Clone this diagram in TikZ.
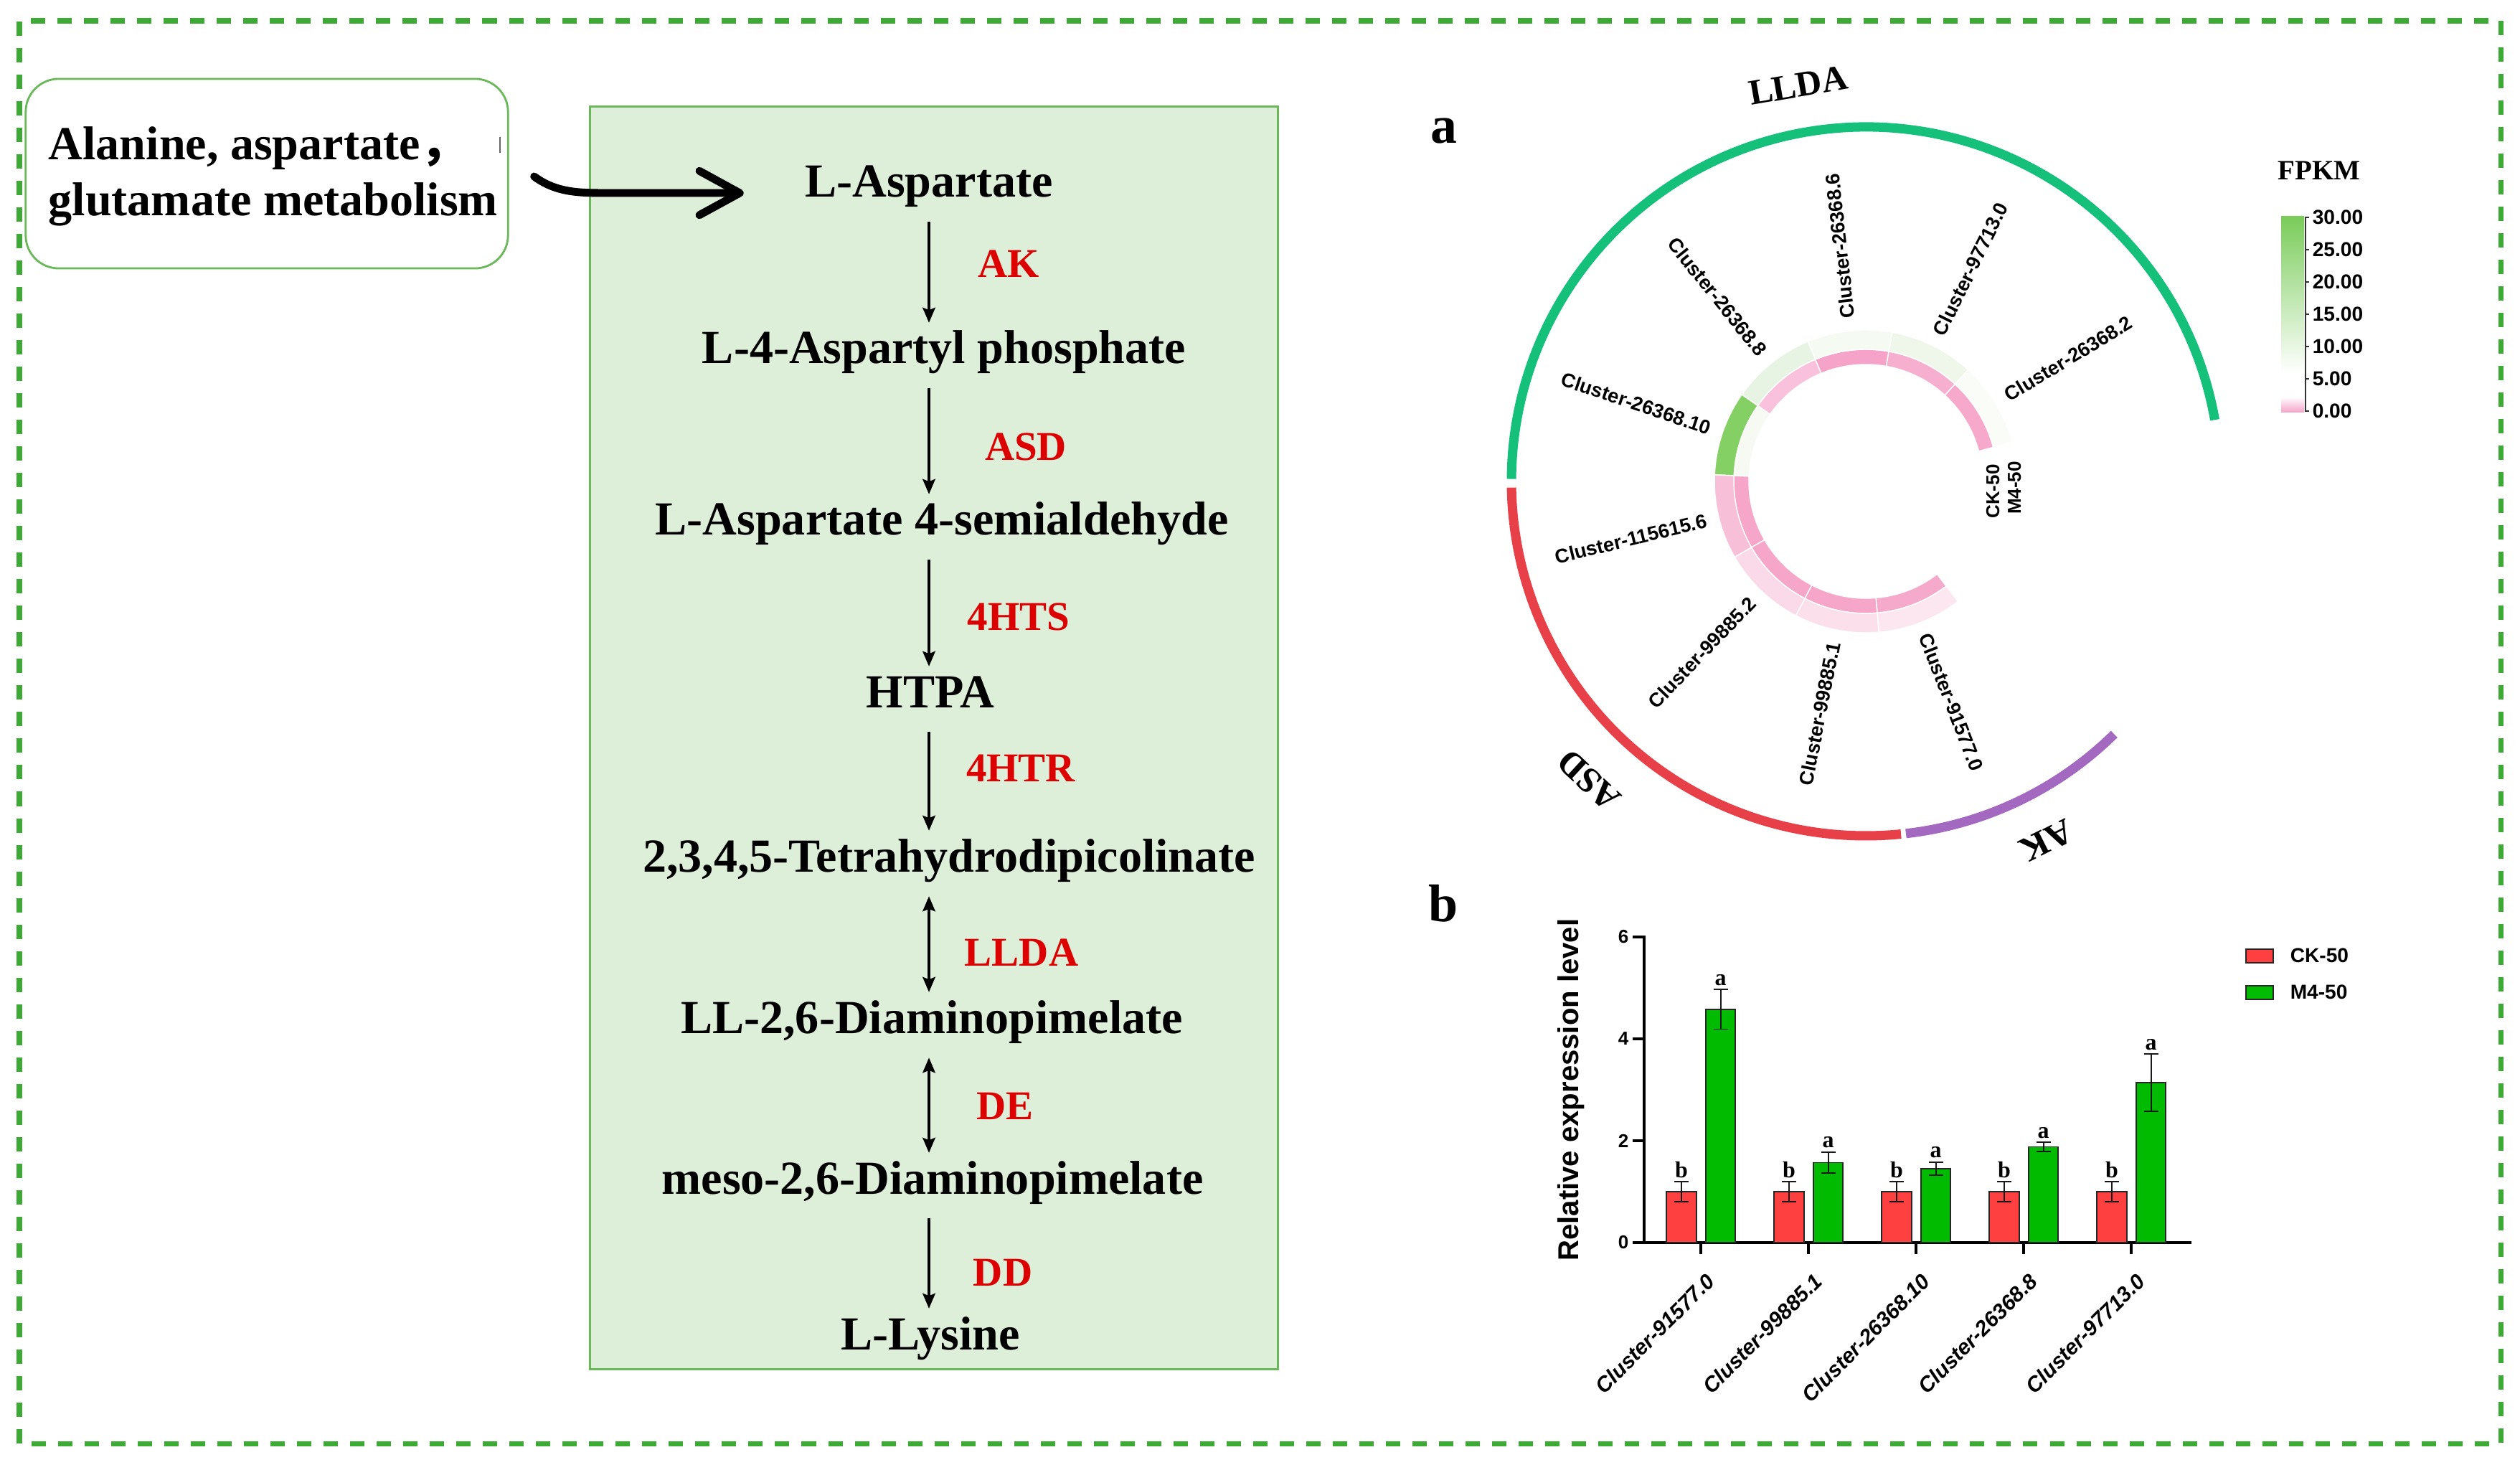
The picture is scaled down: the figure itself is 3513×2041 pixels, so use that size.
\documentclass[tikz,border=0pt]{standalone}
\usepackage{fontspec}
\setmainfont{Liberation Serif}
\setsansfont{Liberation Sans}
\newfontfamily\cjk{Noto Sans CJK SC}
\usetikzlibrary{arrows.meta,calc}
\definecolor{bordergreen}{RGB}{61,170,53}
\definecolor{boxgreen}{RGB}{106,184,90}
\definecolor{boxfill}{HTML}{DDEFD9}
\definecolor{enzred}{RGB}{220,0,0}
\definecolor{lldacol}{RGB}{20,192,122}
\definecolor{asdcol}{RGB}{232,64,72}
\definecolor{akcol}{RGB}{163,104,192}
\definecolor{heatgreen}{HTML}{7ACC5A}
\definecolor{heatpink}{HTML}{F4A3C8}
\definecolor{ckred}{HTML}{FF4040}
\definecolor{m4green}{HTML}{00BB00}
\begin{document}
\begin{tikzpicture}[x=0.01cm,y=0.01cm,
  met/.style={font=\fontsize{18.8}{22}\selectfont\bfseries, inner sep=0pt, text height=13.2pt, text depth=4.7pt, anchor=base},
  enz/.style={font=\fontsize{16.2}{19}\selectfont\bfseries, text=enzred, inner sep=0pt, anchor=base},
  rx/.style={line width=1pt, -{Stealth[length=6pt,width=5pt,inset=1pt]}, shorten <=0.17cm, shorten >=0.1cm},
  rxb/.style={line width=1pt, {Stealth[length=6pt,width=5pt,inset=1pt]}-{Stealth[length=6pt,width=5pt,inset=1pt]}, shorten <=0.17cm, shorten >=0.1cm},
  arclab/.style={font=\fontsize{14.2}{16}\selectfont\bfseries, inner sep=0pt},
  clab/.style={font=\sffamily\bfseries\fontsize{7.8}{9}\selectfont, inner sep=0pt},
  ftick/.style={font=\sffamily\bfseries\fontsize{8}{9}\selectfont, inner sep=0pt, anchor=west},
  btick/.style={font=\sffamily\bfseries\fontsize{7.4}{9}\selectfont, inner sep=0pt, anchor=east},
  xlab/.style={font=\sffamily\bfseries\itshape\fontsize{8.5}{10}\selectfont, inner sep=0pt, rotate=45, anchor=north east},
  sig/.style={font=\fontsize{9.1}{10}\selectfont\bfseries, inner sep=0pt, anchor=base},
  panel/.style={font=\fontsize{21}{24}\selectfont\bfseries, inner sep=0pt},
  barck/.style={fill=ckred, draw=black!85, line width=0.45pt},
  barm4/.style={fill=m4green, draw=black!85, line width=0.45pt},
  errb/.style={line width=0.55pt, black!90}
]
\useasboundingbox (0,0) rectangle (3513,2041);
\fill[white] (0,0) rectangle (3513,2041);
\draw[bordergreen, line width=2pt, dash pattern=on 0.2cm off 0.17cm] (27,29) rectangle (3486,2012);

% ---------- left source box ----------
\node[draw=boxgreen, line width=0.8pt, rounded corners=0.46cm, minimum width=6.72cm, minimum height=2.64cm, inner sep=0pt] (src) at (372,1799) {};
\node[align=left, font=\fontsize{18.8}{22.2}\selectfont\bfseries, inner sep=0pt, anchor=west] (srct) at (67,1795)
      {Alanine, aspartate{\cjk ，}\\glutamate metabolism};
\draw[black!60, line width=0.4pt] (697,1828) -- (697,1850);

% ---------- pathway box ----------
\node[draw=boxgreen, fill=boxfill, line width=0.9pt, minimum width=9.58cm, minimum height=17.59cm, inner sep=0pt] (pw) at (1302,1012.5) {};

\node[met] (asp)  at (1295,1766) {L-Aspartate};
\node[met] (a4p)  at (1316,1534) {L-4-Aspartyl phosphate};
\node[met] (asa)  at (1313,1295) {L-Aspartate 4-semialdehyde};
\node[met] (htpa) at (1297,1055) {HTPA};
\node[met] (thdp) at (1323,826)  {2,3,4,5-Tetrahydrodipicolinate};
\node[met] (lldap) at (1299,601) {LL-2,6-Diaminopimelate};
\node[met] (meso) at (1300,377)  {meso-2,6-Diaminopimelate};
\node[met] (lys)  at (1297,160)  {L-Lysine};

\node[enz] (eAK)   at (1406,1654) {AK};
\node[enz] (eASD)  at (1430,1399) {ASD};
\node[enz] (eHTS)  at (1420,1163) {4HTS};
\node[enz] (eHTR)  at (1423,952)  {4HTR};
\node[enz] (eLLDA) at (1424,695)  {LLDA};
\node[enz] (eDE)   at (1401,481)  {DE};
\node[enz] (eDD)   at (1398,249)  {DD};

\coordinate (ax) at (1295,0);
\draw[rx]  (ax |- asp.south)  -- (ax |- a4p.north);
\draw[rx]  (ax |- a4p.south)  -- (ax |- asa.north);
\draw[rx]  (ax |- asa.south)  -- (ax |- htpa.north);
\draw[rx]  (ax |- htpa.south) -- (ax |- thdp.north);
\draw[rxb] (ax |- thdp.south) -- (ax |- lldap.north);
\draw[rxb] (ax |- lldap.south) -- (ax |- meso.north);
\draw[rx]  (ax |- meso.south) -- (ax |- lys.north);

\coordinate (cs) at ($(src.east)+(35,-4)$);
\coordinate (ct) at ($(asp.west)+(-85,-9)$);
\draw[line width=3.1pt, line cap=round, -{Straight Barb[length=16pt,width=17.5pt,round]}]
  (cs) .. controls +(30,-22) and +(-40,0) .. ($(cs)+(100,-23)$) -- (ct);

% ---------- panel labels ----------
\node[panel] (pa) at (2013,1858) {a};
\node[panel] (pb) at (2012,782) {b};

% ---------- circular heatmap ----------
\begin{scope}[shift={(2601,1370)}]
  \draw[lldacol, line width=3.7pt] (10:494) arc[start angle=10, end angle=179.6, radius=494];
  \draw[asdcol, line width=3.7pt] (181:494) arc[start angle=181, end angle=275.7, radius=494];
  \draw[akcol, line width=3.7pt] (276.5:494) arc[start angle=276.5, end angle=314.5, radius=494];
  \node[arclab, rotate=9.7]   (lLLDA) at (99.7:560)  {LLDA};
  \node[arclab, rotate=137.2] (lASD)  at (227.2:568) {ASD};
  \node[arclab, rotate=206.7] (lAK)   at (296.7:561) {AK};

  \foreach \i/\ck/\mf in {0/F6A9CB/F9FCF7, 1/F7AFD0/EEF7EA, 2/F5A3C8/F5FAF2, 3/F9C1DB/E8F4E3,
                          4/F6FAF3/84D064, 5/F5A6C9/F8BFD9, 6/F5A6C9/FADAE8, 7/F5A6C9/FBE0EC, 8/F6AACB/FCE6F0} {
    \pgfmathsetmacro\aa{15+32.5*\i}
    \pgfmathsetmacro\bb{\aa+32.5}
    \definecolor{tmpck}{HTML}{\ck}
    \definecolor{tmpmf}{HTML}{\mf}
    \filldraw[fill=tmpck, draw=white, line width=0.4pt] (\aa:163) arc[start angle=\aa, end angle=\bb, radius=163]
       -- (\bb:184) arc[start angle=\bb, end angle=\aa, radius=184] -- cycle;
    \filldraw[fill=tmpmf, draw=white, line width=0.4pt] (\aa:184) arc[start angle=\aa, end angle=\bb, radius=184]
       -- (\bb:211) arc[start angle=\bb, end angle=\aa, radius=211] -- cycle;
  }

  \node[clab, anchor=west, rotate=31.25]  (k0) at (31.25:228)  {Cluster-26368.2};
  \node[clab, anchor=west, rotate=63.75]  (k1) at (63.75:228)  {Cluster-97713.0};
  \node[clab, anchor=west, rotate=96.25]  (k2) at (96.25:228)  {Cluster-26368.6};
  \node[clab, anchor=east, rotate=-51.25] (k3) at (128.75:228) {Cluster-26368.8};
  \node[clab, anchor=east, rotate=-18.75] (k4) at (161.25:228) {Cluster-26368.10};
  \node[clab, anchor=east, rotate=13.75]  (k5) at (193.75:228) {Cluster-115615.6};
  \node[clab, anchor=east, rotate=46.25]  (k6) at (226.25:228) {Cluster-99885.2};
  \node[clab, anchor=east, rotate=78.75]  (k7) at (258.75:228) {Cluster-99885.1};
  \node[clab, anchor=west, rotate=-68.75] (k8) at (291.25:228) {Cluster-91577.0};

  \node[clab, font=\sffamily\bfseries\fontsize{7.4}{9}\selectfont, rotate=90] (tck) at (177,-14) {CK-50};
  \node[clab, font=\sffamily\bfseries\fontsize{7.4}{9}\selectfont, rotate=90] (tm4) at (207,-9) {M4-50};
\end{scope}

% ---------- FPKM legend ----------
\node[font=\fontsize{11.1}{13}\selectfont\bfseries, inner sep=0pt] (fpkm) at (3233,1803) {FPKM};
\shade[top color=heatgreen, bottom color=white] (3180,1521) rectangle (3212,1739);
\fill[white] (3180,1488) rectangle (3212,1521);
\shade[top color=white, bottom color=heatpink] (3180,1466) rectangle (3212,1488);
\draw[black!80, line width=0.7pt] (3214,1467) -- (3214,1739);
\foreach \v [count=\k from 0] in {0.00,5.00,10.00,15.00,20.00,25.00,30.00} {
  \draw[black!80, line width=0.7pt] (3214,{1468+45*\k}) -- (3219,{1468+45*\k});
  \node[ftick] (ft\k) at (3223,{1468+45*\k}) {\v};
}

% ---------- bar chart ----------
\draw[line width=1.3pt] (2292,309) -- (2292,737);
\draw[line width=1.4pt] (2276,309) -- (3055,309);
\foreach \v in {0,2,4,6} {
  \draw[line width=1.2pt] (2276,{309+71*\v}) -- (2292,{309+71*\v});
  \node[btick] (yt\v) at (2271,{309+71*\v}) {\v};
}
\node[rotate=90, font=\sffamily\bfseries\fontsize{11.4}{13}\selectfont, inner sep=0pt] (ylab) at (2190,522) {Relative expression level};

\foreach \i/\m/\e/\lab in {0/4.58/0.39/Cluster-91577.0, 1/1.57/0.21/Cluster-99885.1, 2/1.45/0.13/Cluster-26368.10,
                           3/1.88/0.09/Cluster-26368.8, 4/3.14/0.56/Cluster-97713.0} {
  \pgfmathsetmacro\c{2371+150*\i}
  \draw[line width=1.2pt] (\c,309) -- (\c,293);
  \filldraw[barck] ({\c-48},309) rectangle ({\c-6},380);
  \filldraw[barm4] ({\c+7},309) rectangle ({\c+48},{309+71*\m});
  \draw[errb] ({\c-27},365.8) -- ({\c-27},394.2);
  \draw[errb] ({\c-37},365.8) -- ({\c-17},365.8);
  \draw[errb] ({\c-37},394.2) -- ({\c-17},394.2);
  \node[sig] at ({\c-27},400) {b};
  \draw[errb] ({\c+27.5},{309+71*(\m-\e)}) -- ({\c+27.5},{309+71*(\m+\e)});
  \draw[errb] ({\c+17.5},{309+71*(\m-\e)}) -- ({\c+37.5},{309+71*(\m-\e)});
  \draw[errb] ({\c+17.5},{309+71*(\m+\e)}) -- ({\c+37.5},{309+71*(\m+\e)});
  \node[sig] at ({\c+27.5},{309+71*(\m+\e)+6}) {a};
  \node[xlab] (xl\i) at ({\c+6},269) {\lab};
}

\filldraw[barck] (3131,699) rectangle (3169,718);
\filldraw[barm4] (3131,648) rectangle (3169,667);
\node[ftick] (lgck) at (3192,709) {CK-50};
\node[ftick] (lgm4) at (3192,658) {M4-50};
\end{tikzpicture}
\end{document}
